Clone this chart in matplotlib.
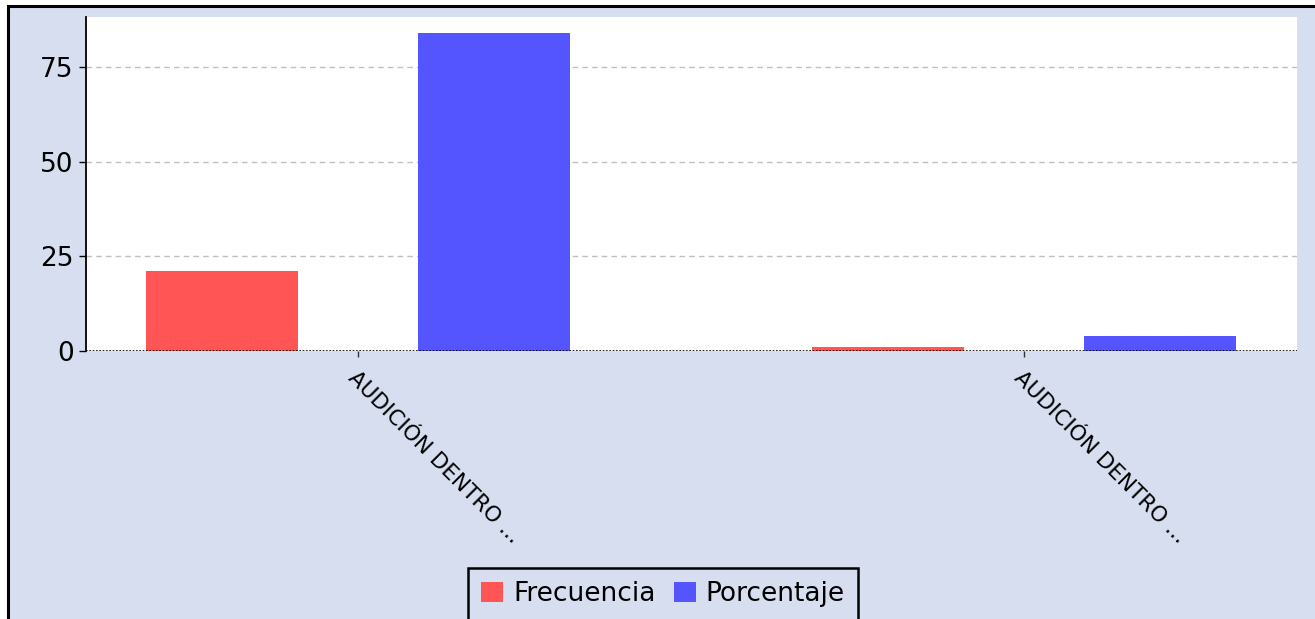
import matplotlib
matplotlib.use("Agg")
import matplotlib.pyplot as plt
from matplotlib.patches import Rectangle
import numpy as np

# data
categorias = ["AUDICIÓN DENTRO ...", "AUDICIÓN DENTRO ..."]
frecuencia = [21, 1]
porcentaje = [84, 4]
series = ["Frecuencia", "Porcentaje"]
yticks = [0, 25, 50, 75]

BG = "#D6DEF0"
ROJO = "#FF5555"
AZUL = "#5555FF"

W, H = 1315, 619
fig = plt.figure(figsize=(W / 100, H / 100), dpi=100, facecolor="white")

# panel background with black frame (cropped at right/bottom)
x0 = 7.5 / W
y_top = 1 - 6.5 / H
fig.patches.append(Rectangle((x0, -0.1), 1.2, y_top + 0.1, transform=fig.transFigure,
                             facecolor=BG, edgecolor="black", linewidth=2.2, zorder=-10))

ax = fig.add_axes([86 / W, 1 - 351 / H, (1297 - 86) / W, (351 - 17) / H])
ax.set_facecolor("white")

x = np.arange(len(categorias))
ancho = 0.228
off = 0.204
ax.bar(x - off, frecuencia, ancho, color=ROJO, label=series[0], zorder=2)
ax.bar(x + off, porcentaje, ancho, color=AZUL, label=series[1], zorder=2)

ax.set_xlim(-0.4084, 1.410)
ax.set_ylim(0, 88.2)
ax.set_yticks(yticks)
ax.set_yticklabels([str(v) for v in yticks], fontsize=19)
ax.set_xticks(x)
ax.set_xticklabels(categorias, rotation=-45, ha="left", va="top",
                   rotation_mode="anchor", fontsize=15.5)
ax.tick_params(axis="y", length=5, width=1, color="black", pad=4)
ax.tick_params(axis="x", length=4, width=1, color="#333333", pad=8)

ax.grid(axis="y", linestyle=(0, (4, 3)), color="#C0C0C0", linewidth=1, zorder=0)
ax.axhline(0, color="black", linestyle=(0, (1, 1)), linewidth=1.2, zorder=3)

for s in ["top", "right", "bottom"]:
    ax.spines[s].set_visible(False)
ax.spines["left"].set_linewidth(1.3)

leg = fig.legend(loc="upper center", bbox_to_anchor=(663 / W, 1 - 568 / H),
                 ncol=2, fontsize=19, frameon=True, fancybox=False, borderaxespad=0,
                 handlelength=0.83, handleheight=0.83, handletextpad=0.38,
                 borderpad=0.5, columnspacing=0.68)
leg.get_frame().set_facecolor(BG)
leg.get_frame().set_edgecolor("black")
leg.get_frame().set_linewidth(1.8)
leg.get_frame().set_alpha(1)

fig.savefig("out.png", dpi=100)
